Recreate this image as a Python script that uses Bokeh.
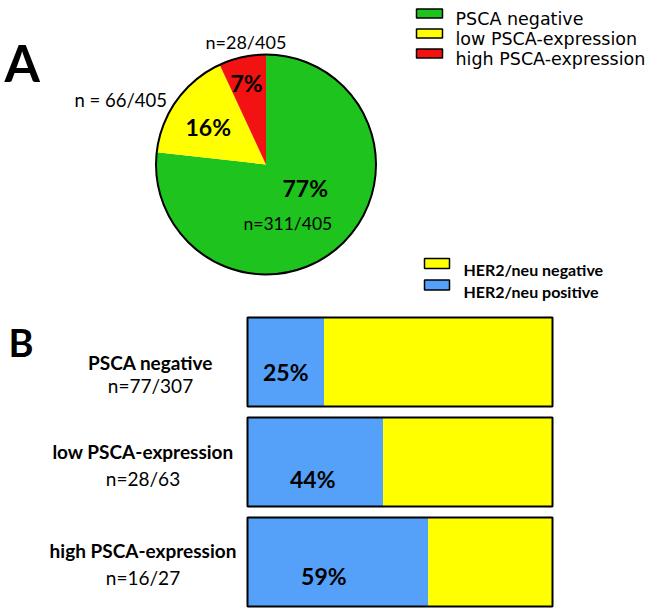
import numpy as np
from bokeh.plotting import figure
from bokeh.models import Range1d
from bokeh.core.properties import value
from bokeh.embed import file_html
from bokeh.resources import INLINE

# ---------------- data ----------------
pie_categories = ["PSCA negative", "low PSCA-expression", "high PSCA-expression"]
pie_counts = [311, 66, 28]
pie_total = 405
pie_pct_labels = ["77%", "16%", "7%"]
pie_n_labels = ["n=311/405", "n = 66/405", "n=28/405"]

bar_groups = ["PSCA negative", "low PSCA-expression", "high PSCA-expression"]
her2_positive = [77, 28, 16]
group_totals = [307, 63, 27]
bar_pct_labels = ["25%", "44%", "59%"]
bar_n_labels = ["n=77/307", "n=28/63", "n=16/27"]
her2_categories = ["HER2/neu negative", "HER2/neu positive"]

# ---------------- styles ----------------
pie_colors = ["#1ec31e", "#ffff00", "#f21212"]
her2_colors = ["#ffff00", "#55a0f8"]  # negative, positive
CAL = value("Lato")
ARIAL = value("DejaVu Sans")

# ---------------- layout ----------------
W, H = 650, 612


def Y(py):
    return H - np.asarray(py, dtype=float)


p = figure(width=W, height=H, x_range=Range1d(0, W), y_range=Range1d(0, H),
           output_backend="svg", toolbar_location=None, min_border=0,
           x_axis_location=None, y_axis_location=None)
p.grid.visible = False
p.outline_line_color = None
p.background_fill_color = "white"
p.border_fill_color = "white"

# panel letters
p.text(x=[4], y=Y([62]), text=["A"], text_font=CAL, text_font_style="bold",
       text_font_size="51px", text_baseline="alphabetic", text_align="left", text_color="black")
p.text(x=[8], y=Y([341]), text=["B"], text_font=CAL, text_font_style="bold",
       text_font_size="38px", text_baseline="alphabetic", text_align="left", text_color="black")

# ---------------- pie ----------------
cx, cy, r = 265.5, float(Y(164)), 110
fr = np.array(pie_counts, dtype=float) / pie_total
ends = np.cumsum(fr)
starts = ends - fr
# clockwise from 12 o'clock
a_end = np.pi / 2 - starts * 2 * np.pi
a_start = np.pi / 2 - ends * 2 * np.pi
p.wedge(x=cx, y=cy, radius=r, start_angle=a_start, end_angle=a_end,
        direction="anticlock", fill_color=pie_colors, line_color=None)
p.arc(x=cx, y=cy, radius=r, start_angle=0, end_angle=2 * np.pi, line_color="black", line_width=2)

pct_xy = [(282, 187), (185, 126), (230, 82)]
p.text(x=[a for a, b in pct_xy], y=Y([b for a, b in pct_xy]), text=pie_pct_labels,
       text_font=CAL, text_font_style="bold", text_font_size="23px",
       text_baseline="alphabetic", text_align="left", text_color="black")
n_xy = [(243, 223), (74, 99), (205, 41)]
n_sizes = ["17.5px", "18.5px", "18px"]
p.text(x=[a for a, b in n_xy], y=Y([b for a, b in n_xy]), text=pie_n_labels,
       text_font=CAL, text_font_size=n_sizes,
       text_baseline="alphabetic", text_align="left", text_color="black")

# top legend
leg_base = 18 + 20 * np.arange(len(pie_categories))
p.rect(x=429, y=Y(leg_base - 5), width=26, height=9, fill_color=pie_colors,
       line_color="black", line_width=1.5)
p.text(x=455, y=Y(leg_base), text=pie_categories, text_font=ARIAL, text_font_size="17.5px",
       text_baseline="alphabetic", text_align="left", text_color="black")

# ---------------- bars ----------------
bar_left_px, bar_right_px = 247, 552
span = bar_right_px - bar_left_px
p.extra_x_ranges = {"pct": Range1d(-bar_left_px / span * 100,
                                   100 + (W - bar_right_px) / span * 100)}
pct = 100 * np.array(her2_positive, dtype=float) / np.array(group_totals, dtype=float)
row_py = 361.5 + 100 * np.arange(len(bar_groups))
row_y = Y(row_py)
bar_h = 89

p.hbar(y=row_y, left=0, right=pct, height=bar_h, fill_color=her2_colors[1],
       line_color=None, x_range_name="pct")
p.hbar(y=row_y, left=pct, right=100, height=bar_h, fill_color=her2_colors[0],
       line_color=None, x_range_name="pct")
p.hbar(y=row_y, left=0, right=100, height=bar_h, fill_color=None,
       line_color="black", line_width=2, x_range_name="pct")

pct_dx = [0, -2.5, -14]
pct_dy = [9.5, 16.5, 13.5]
p.text(x=pct / 2, y=Y(row_py + np.array(pct_dy)), x_offset=pct_dx, text=bar_pct_labels,
       text_font=CAL, text_font_style="bold", text_font_size="23px",
       text_baseline="alphabetic", text_align="center", text_color="black",
       x_range_name="pct")

# row labels
lab_x = 142.5 + np.array([7.5, 0, 0])
bold_dy = np.array([0.5, -10.5, -11.5])
n_dy = np.array([23.5, 16.5, 15.5])
p.text(x=lab_x, y=Y(row_py + bold_dy), text=bar_groups, text_font=CAL, text_font_style="bold",
       text_font_size="19px", text_baseline="alphabetic", text_align="center", text_color="black")
p.text(x=lab_x, y=Y(row_py + n_dy), text=bar_n_labels, text_font=CAL,
       text_font_size="19px", text_baseline="alphabetic", text_align="center", text_color="black")

# bottom legend
leg2_base = 269 + 21.5 * np.arange(len(her2_categories))
p.rect(x=436.5, y=Y(leg2_base - 6), width=25, height=10, fill_color=her2_colors,
       line_color="black", line_width=1.5)
p.text(x=463, y=Y(leg2_base), text=her2_categories, text_font=CAL, text_font_style="bold",
       text_font_size="16px", text_baseline="alphabetic", text_align="left", text_color="black")

open("out.html", "w").write(file_html(p, INLINE))
